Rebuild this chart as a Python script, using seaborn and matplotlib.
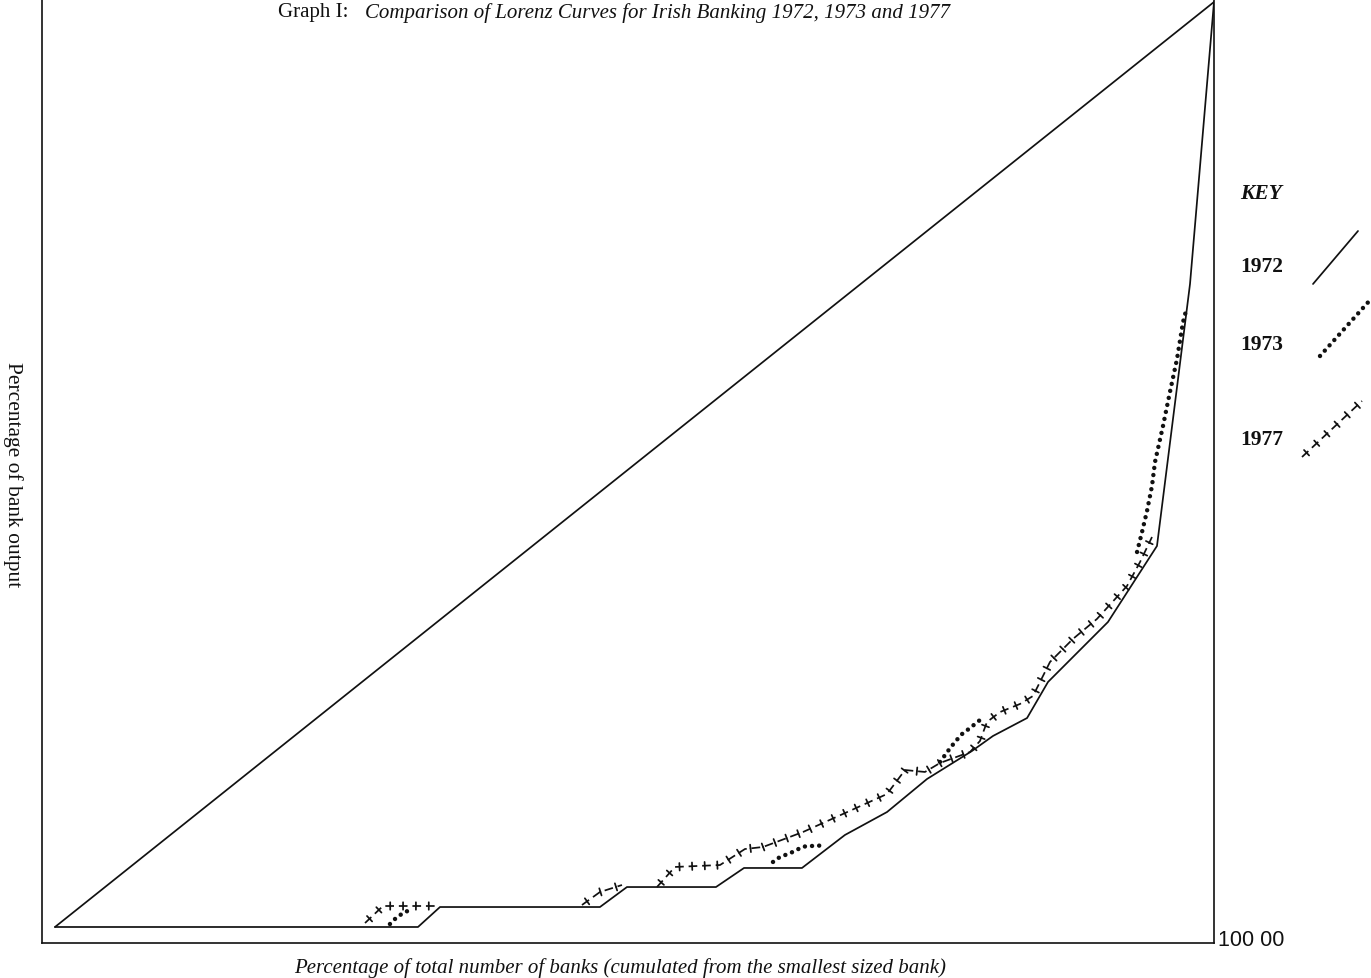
import numpy as np
import pandas as pd
import matplotlib
matplotlib.use("Agg")
import matplotlib.pyplot as plt
import matplotlib.patheffects as pe
import seaborn as sns

# Cumulative % of banks (x) against cumulative % of output (y)
banks_1972 = [0.0, 31.32, 33.22, 47.02, 49.35, 57.03, 59.45, 64.45, 68.16, 71.79,
              75.24, 79.12, 80.93, 83.87, 85.68, 90.85, 95.08, 97.93, 100.0]
output_1972 = [0.0, 0.0, 2.16, 2.16, 4.32, 4.32, 6.38, 6.38, 9.95, 12.43,
               16.0, 19.03, 20.65, 22.59, 26.49, 32.97, 41.19, 69.51, 100.0]

# 1973 is drawn only where it departs from 1972 (four pieces)
banks_1973 = [
    [28.90, 29.51, 30.20, 30.89],
    [61.95, 62.55, 63.24, 63.85, 64.45, 64.97, 65.75, 66.26],
    [76.36, 77.05, 77.65, 78.26, 78.95, 79.81],
    [93.36, 93.79, 94.22, 94.65, 94.91, 95.60, 96.20, 96.81, 97.33, 97.67],
]
output_1973 = [
    [0.32, 1.08, 1.62, 1.95],
    [7.03, 7.57, 7.89, 8.22, 8.65, 8.76, 8.76, 8.86],
    [17.84, 19.03, 20.0, 20.86, 21.51, 22.38],
    [40.54, 42.70, 44.97, 47.68, 50.27, 54.16, 57.84, 61.41, 65.41, 67.03],
]

# 1977, likewise drawn in three pieces
banks_1977 = [
    [26.75, 28.30, 32.79],
    [45.47, 47.02, 48.92],
    [51.94, 53.49, 57.38, 59.53, 61.09, 64.54, 67.99, 71.79, 73.34, 75.06,
     76.36, 78.95, 79.81, 80.41, 81.54, 83.26, 84.38, 85.85, 87.83, 89.90,
     92.49, 93.62, 94.65],
]
output_1977 = [
    [0.43, 2.27, 2.27],
    [2.38, 3.78, 4.54],
    [4.32, 6.49, 6.70, 8.43, 8.65, 10.27, 12.22, 14.38, 16.97, 16.76,
     17.73, 18.92, 20.11, 22.16, 23.24, 24.11, 24.97, 28.65, 31.14, 33.30,
     36.86, 39.46, 42.16],
]

equality_x = [0, 100]
equality_y = [0, 100]

key_years = ["1972", "1973", "1977"]


def pieces(xs, ys):
    rows = []
    for k, (px, py) in enumerate(zip(xs, ys)):
        for a, b in zip(px, py):
            rows.append({"banks": a, "output": b, "piece": k})
    return pd.DataFrame(rows)


sns.set_theme(style="white")
plt.rcParams["font.family"] = ["Liberation Serif", "DejaVu Serif"]

INK = "#111111"
LW = 1.25
DOT_LW = 3.2
DOTS = (0, (0.01, 1.6))
DASHES = (0, (5.0, 2.8))

fig = plt.figure(figsize=(13.71, 9.79), dpi=100)
ax = fig.add_axes([42 / 1371, 35 / 979, (1214 - 42) / 1371, 944 / 979])

# line of equality
sns.lineplot(x=equality_x, y=equality_y, ax=ax, color=INK, lw=LW, sort=False)

# 1972: solid
sns.lineplot(x=banks_1972, y=output_1972, ax=ax, color=INK, lw=LW,
             sort=False, estimator=None)

# 1973: round dots
d73 = pieces(banks_1973, output_1973)
sns.lineplot(data=d73, x="banks", y="output", units="piece", estimator=None,
             sort=False, ax=ax, color=INK, lw=DOT_LW,
             linestyle=DOTS, dash_capstyle="round")

# 1977: dashes crossed by small ticks
d77 = pieces(banks_1977, output_1977)
sns.lineplot(data=d77, x="banks", y="output", units="piece", estimator=None,
             sort=False, ax=ax, color=INK, lw=LW, linestyle=DASHES)
n_mid = len(ax.lines)
sns.lineplot(data=d77, x="banks", y="output", units="piece", estimator=None,
             sort=False, ax=ax, color=INK, lw=LW)
tick_effects = [pe.TickedStroke(spacing=9.0, angle=90, length=0.3),
                pe.TickedStroke(spacing=9.0, angle=-90, length=0.3)]
for ln in ax.lines[n_mid:]:
    ln.set_path_effects(tick_effects)

ax.set_xlim(-1.12, 100)
ax.set_ylim(-1.73, 100.32)
ax.set_xticks([])
ax.set_yticks([])
ax.set_xlabel("")
ax.set_ylabel("")
for side in ("left", "bottom", "right"):
    ax.spines[side].set_visible(True)
    ax.spines[side].set_color(INK)
    ax.spines[side].set_linewidth(1.2)
ax.spines["top"].set_visible(False)
if ax.get_legend() is not None:
    ax.get_legend().remove()

# titles and axis captions
fig.text(278 / 1371, 1 - 13 / 979, "Graph I:", fontsize=15, color=INK,
         ha="left", va="center")
fig.text(365 / 1371, 1 - 13 / 979,
         "Comparison of Lorenz Curves for Irish Banking 1972, 1973 and 1977",
         fontsize=15, style="italic", color=INK, ha="left", va="center")
fig.text(620 / 1371, 1 - 968 / 979,
         "Percentage of total number of banks (cumulated from the smallest sized bank)",
         fontsize=15, style="italic", color=INK, ha="center", va="center")
fig.text(13 / 1371, 1 - 475 / 979, "Percentage of bank output", fontsize=15.5,
         rotation=270, color=INK, ha="center", va="center")
fig.text(1218 / 1371, 1 - 940 / 979, "100 00", fontsize=15.5,
         family=["Liberation Sans", "DejaVu Sans"], color=INK,
         ha="left", va="center")

# key
fig.text(1240 / 1371, 1 - 194 / 979, "KEY", fontsize=15.5, style="italic",
         weight="bold", color=INK, ha="left", va="center")
for year, ypix in zip(key_years, [267, 345, 440]):
    fig.text(1240 / 1371, 1 - ypix / 979, year, fontsize=15.5, weight="bold",
             color=INK, ha="left", va="center")

kax = fig.add_axes([0, 0, 1, 1])
kax.set_xlim(0, 1371)
kax.set_ylim(979, 0)
kax.axis("off")
kax.patch.set_alpha(0)
kax.plot([1313, 1358], [285, 232], color=INK, lw=LW)
kax.plot([1320, 1371], [357, 300], color=INK, lw=DOT_LW,
         linestyle=DOTS, dash_capstyle="round", clip_on=False)
kax.plot([1302, 1362], [458, 402], color=INK, lw=LW, linestyle=DASHES)
kax.plot([1302, 1362], [458, 402], color=INK, lw=LW,
         path_effects=tick_effects)

fig.savefig("out.png", dpi=100, facecolor="white")
